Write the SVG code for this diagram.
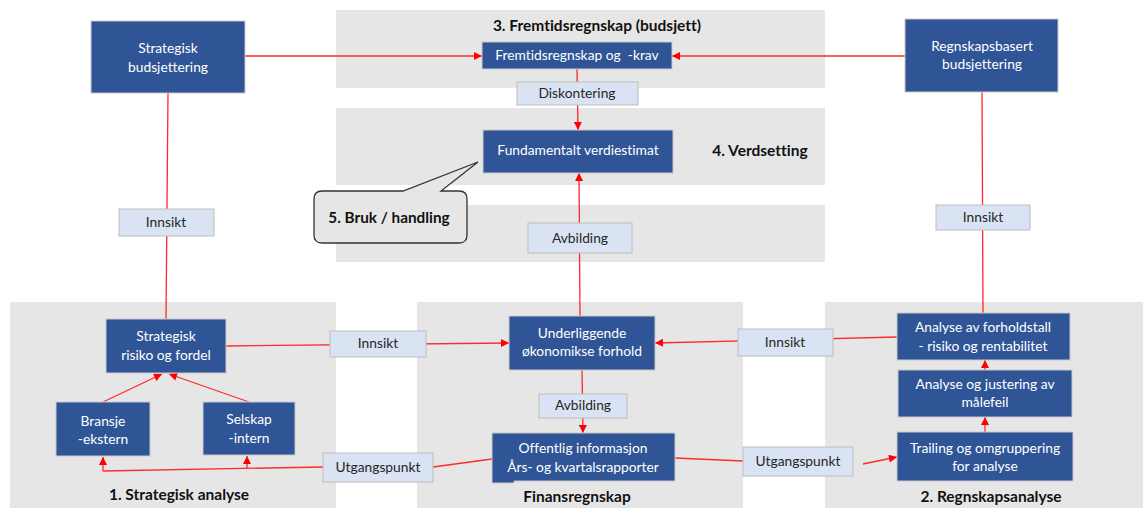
<svg xmlns="http://www.w3.org/2000/svg" width="1143" height="508" viewBox="0 0 1143 508">
  <style>
    .panel { fill: #E7E6E6; }
    .box { fill: #2F5597; stroke: #C9C9C9; stroke-width: 1; }
    .lbl { fill: #DAE3F3; stroke: #BDBDBD; stroke-width: 1; }
    text { font-variant-ligatures: none; }
    .wt { font-family: Lato, "Liberation Sans", sans-serif; font-size: 13.8px; fill: #FFFFFF; text-anchor: middle; }
    .dt { font-family: Lato, "Liberation Sans", sans-serif; font-size: 13.8px; fill: #262626; text-anchor: middle; }
    .ttl { font-family: Lato, "Liberation Sans", sans-serif; font-size: 15.5px; font-weight: bold; fill: #111111; text-anchor: middle; }
    .ln { fill: none; stroke: #FF2A2A; stroke-width: 1.3; }
    .arr { marker-end: url(#ah); }
  </style>
  <defs>
    <marker id="ah" viewBox="0 0 10 10" refX="10" refY="5" markerWidth="9" markerHeight="8" markerUnits="userSpaceOnUse" orient="auto">
      <path d="M0,0 L10,5 L0,10 Z" fill="#FF0000"/>
    </marker>
  </defs>

  <rect width="1143" height="508" fill="#FFFFFF"/>

  <!-- background panels -->
  <g id="panels">
    <rect class="panel" x="336" y="10" width="489" height="78"/>
    <rect class="panel" x="336" y="108" width="489" height="77"/>
    <rect class="panel" x="336" y="205" width="489" height="57"/>
    <rect class="panel" x="10" y="302" width="326" height="206"/>
    <rect class="panel" x="417" y="302" width="326" height="206"/>
    <rect class="panel" x="825" y="302" width="318" height="206"/>
  </g>

  <!-- connectors -->
  <g id="connectors">
    <line class="ln arr" x1="245" y1="56" x2="482" y2="56"/>
    <line class="ln arr" x1="905" y1="56" x2="672" y2="56"/>
    <line class="ln arr" x1="577" y1="69" x2="578" y2="130"/>
    <line class="ln arr" x1="580" y1="316" x2="579" y2="173"/>
    <line class="ln" x1="168" y1="93" x2="166" y2="319"/>
    <line class="ln" x1="982" y1="92" x2="983" y2="313"/>
    <line class="ln arr" x1="226" y1="346" x2="509" y2="343"/>
    <line class="ln arr" x1="897" y1="337" x2="655" y2="343"/>
    <line class="ln arr" x1="582" y1="370" x2="583" y2="433"/>
    <line class="ln arr" x1="103" y1="402" x2="162" y2="374"/>
    <line class="ln arr" x1="249" y1="402" x2="169" y2="374"/>
    <polyline class="ln" points="492,459 433,467"/>
    <polyline class="ln" points="323,467 103,471"/>
    <line class="ln arr" x1="103" y1="471" x2="103" y2="457"/>
    <line class="ln arr" x1="247" y1="468" x2="247" y2="456"/>
    <line class="ln" x1="675" y1="458" x2="743" y2="461"/>
    <line class="ln arr" x1="863" y1="464" x2="897" y2="457"/>
    <line class="ln arr" x1="985" y1="432" x2="985" y2="417"/>
    <line class="ln arr" x1="985" y1="370" x2="985" y2="360"/>
  </g>

  <!-- section titles -->
  <g id="titles">
    <text class="ttl" x="597" y="31">3. Fremtidsregnskap (budsjett)</text>
    <text class="ttl" x="760" y="156">4. Verdsetting</text>
    <text class="ttl" x="179" y="500">1. Strategisk analyse</text>
    <text class="ttl" x="577" y="502">Finansregnskap</text>
    <text class="ttl" x="991" y="502">2. Regnskapsanalyse</text>
  </g>

  <!-- nodes -->
  <g id="strategisk-budsjettering">
    <rect class="box" x="91" y="21" width="154" height="72"/>
    <text class="wt" x="168" y="53">Strategisk</text>
    <text class="wt" x="168" y="72">budsjettering</text>
  </g>
  <g id="regnskapsbasert-budsjettering">
    <rect class="box" x="905" y="19" width="153" height="73"/>
    <text class="wt" x="982" y="51">Regnskapsbasert</text>
    <text class="wt" x="982" y="69">budsjettering</text>
  </g>
  <g id="fremtidsregnskap">
    <rect class="box" x="482" y="42" width="190" height="27"/>
    <text class="wt" x="577" y="60" xml:space="preserve">Fremtidsregnskap og  -krav</text>
  </g>
  <g id="diskontering">
    <rect class="lbl" x="517" y="82" width="121" height="23"/>
    <text class="dt" x="577" y="98">Diskontering</text>
  </g>
  <g id="fundamentalt-verdiestimat">
    <rect class="box" x="483" y="130" width="190" height="43"/>
    <text class="wt" x="578" y="155">Fundamentalt verdiestimat</text>
  </g>
  <g id="avbilding-top">
    <rect class="lbl" x="528" y="223" width="104" height="30"/>
    <text class="dt" x="580" y="243">Avbilding</text>
  </g>
  <g id="bruk-handling">
    <path d="M322,191 L403,191 L478,162 L441,191 L459,191 Q467,191 467,199 L467,235 Q467,243 459,243 L322,243 Q314,243 314,235 L314,199 Q314,191 322,191 Z" fill="#E7E6E6" stroke="#333333" stroke-width="1.3"/>
    <text class="ttl" x="389" y="223" style="font-size:15.3px">5. Bruk / handling</text>
  </g>
  <g id="innsikt-left-top">
    <rect class="lbl" x="119" y="209" width="95" height="27"/>
    <text class="dt" x="166" y="227">Innsikt</text>
  </g>
  <g id="innsikt-right-top">
    <rect class="lbl" x="936" y="205" width="94" height="25"/>
    <text class="dt" x="983" y="222">Innsikt</text>
  </g>
  <g id="strategisk-risiko">
    <rect class="box" x="106" y="319" width="120" height="54"/>
    <text class="wt" x="166" y="341">Strategisk</text>
    <text class="wt" x="166" y="360">risiko og fordel</text>
  </g>
  <g id="bransje">
    <rect class="box" x="56" y="402" width="94" height="54"/>
    <text class="wt" x="103" y="426">Bransje</text>
    <text class="wt" x="103" y="444">-ekstern</text>
  </g>
  <g id="selskap">
    <rect class="box" x="203" y="402" width="92" height="53"/>
    <text class="wt" x="249" y="424">Selskap</text>
    <text class="wt" x="249" y="443">-intern</text>
  </g>
  <g id="innsikt-mid-left">
    <rect class="lbl" x="330" y="331" width="96" height="26"/>
    <text class="dt" x="378" y="348">Innsikt</text>
  </g>
  <g id="utgangspunkt-left">
    <rect class="lbl" x="323" y="453" width="110" height="29"/>
    <text class="dt" x="378" y="472">Utgangspunkt</text>
  </g>
  <g id="underliggende">
    <rect class="box" x="509" y="316" width="146" height="54"/>
    <text class="wt" x="582" y="338">Underliggende</text>
    <text class="wt" x="582" y="356">økonomikse forhold</text>
  </g>
  <g id="avbilding-lower">
    <rect class="lbl" x="539" y="394" width="88" height="24"/>
    <text class="dt" x="583" y="410">Avbilding</text>
  </g>
  <g id="offentlig-informasjon">
    <path d="M492,433 L675,433 L675,481 L514,481 L514,483 L492,483 Z" class="box"/>
    <text class="wt" x="583" y="453">Offentlig informasjon</text>
    <text class="wt" x="583" y="472">Års- og kvartalsrapporter</text>
  </g>
  <g id="innsikt-mid-right">
    <rect class="lbl" x="738" y="329" width="95" height="27"/>
    <text class="dt" x="785" y="347">Innsikt</text>
  </g>
  <g id="utgangspunkt-right">
    <rect class="lbl" x="743" y="447" width="110" height="29"/>
    <text class="dt" x="798" y="466">Utgangspunkt</text>
  </g>
  <g id="analyse-forholdstall">
    <rect class="box" x="897" y="313" width="173" height="47"/>
    <text class="wt" x="983" y="332">Analyse av forholdstall</text>
    <text class="wt" x="983" y="351">- risiko og rentabilitet</text>
  </g>
  <g id="analyse-justering">
    <rect class="box" x="898" y="370" width="174" height="47"/>
    <text class="wt" x="985" y="389">Analyse og justering av</text>
    <text class="wt" x="985" y="407">målefeil</text>
  </g>
  <g id="trailing">
    <rect class="box" x="897" y="432" width="176" height="49"/>
    <text class="wt" x="985" y="453">Trailing og omgruppering</text>
    <text class="wt" x="985" y="471">for analyse</text>
  </g>
</svg>
